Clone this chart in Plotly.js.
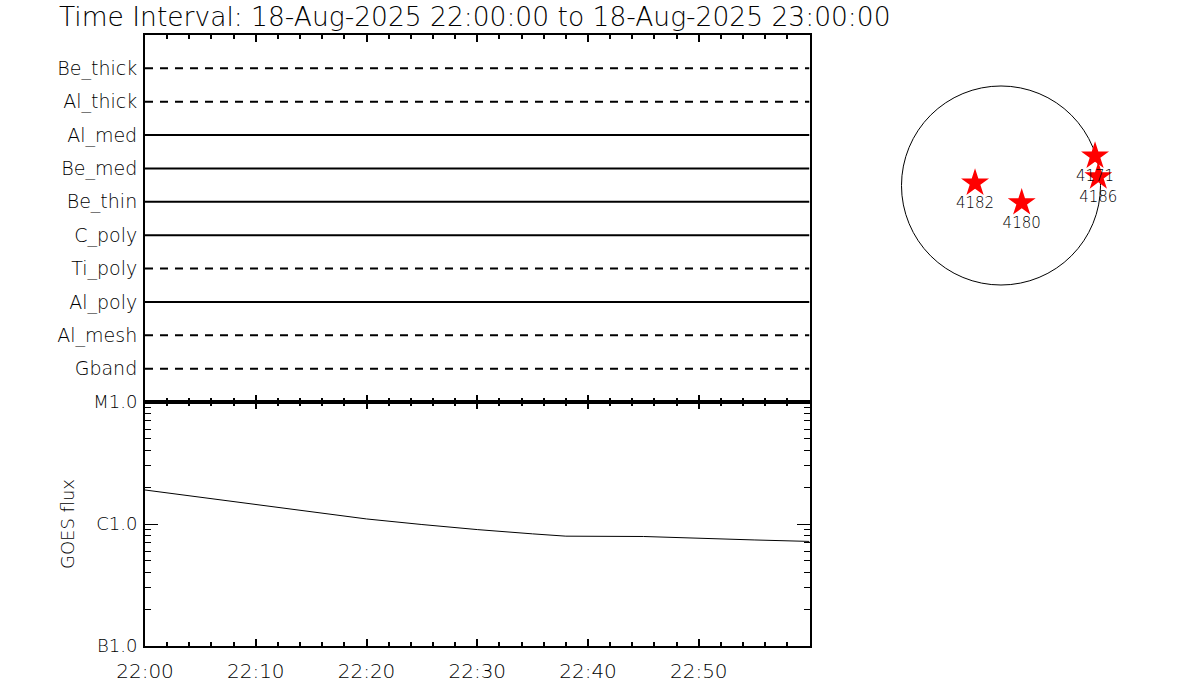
<!DOCTYPE html>
<html>
<head>
<meta charset="utf-8">
<script src="https://cdn.plot.ly/plotly-3.0.1.min.js"></script>
<style>html,body{margin:0;padding:0;background:#fff;}#chart{width:1200px;height:700px;}</style>
</head>
<body>
<div id="chart"></div>
<script>
// ---- data ----
const titleText = 'Time Interval: 18-Aug-2025 22:00:00 to 18-Aug-2025 23:00:00';
const intervalStart = '2025-08-18 22:00:00';
const intervalEnd = '2025-08-18 23:00:00';

const filters = ['Be_thick','Al_thick','Al_med','Be_med','Be_thin','C_poly','Ti_poly','Al_poly','Al_mesh','Gband'];
const filterInUse = [false, false, true, true, true, true, false, true, false, false];

const goesTimes = ['2025-08-18 22:00','2025-08-18 22:05','2025-08-18 22:10','2025-08-18 22:15',
  '2025-08-18 22:20','2025-08-18 22:25','2025-08-18 22:30','2025-08-18 22:35','2025-08-18 22:38',
  '2025-08-18 22:45','2025-08-18 22:50','2025-08-18 22:55','2025-08-18 23:00'];
const goesFlux = [1.90e-6, 1.66e-6, 1.45e-6, 1.26e-6, 1.10e-6, 0.99e-6, 0.90e-6, 0.83e-6, 0.795e-6,
  0.79e-6, 0.77e-6, 0.74e-6, 0.72e-6];

const timeTickVals = ['2025-08-18 22:00','2025-08-18 22:10','2025-08-18 22:20','2025-08-18 22:30','2025-08-18 22:40','2025-08-18 22:50'];
const timeTickText = ['22:00','22:10','22:20','22:30','22:40','22:50'];

const goesTickVals = [1e-7, 1e-6, 1e-5];
const goesTickText = ['B1.0', 'C1.0', 'M1.0'];

const regionNames = ['4182', '4180', '4171', '4186'];
const regionX = [-0.261, 0.208, 0.945, 0.978];   // solar radii
const regionY = [0.025, -0.173, 0.296, 0.088];

// ---- build ----
const FONT = 'DejaVu Sans, Liberation Sans, sans-serif';
const W = 200;
const traces = [];
filters.forEach((f, i) => {
  traces.push({
    x: [intervalStart, intervalEnd],
    y: [filters.length - i, filters.length - i],
    xaxis: 'x', yaxis: 'y',
    mode: 'lines', hoverinfo: 'skip',
    line: {color: '#000', width: 2, dash: filterInUse[i] ? 'solid' : '8px,7px'}
  });
});
traces.push({
  x: goesTimes, y: goesFlux, xaxis: 'x2', yaxis: 'y2',
  mode: 'lines', line: {color: '#000', width: 1}
});
traces.push({
  x: regionX, y: regionY, xaxis: 'x3', yaxis: 'y3',
  mode: 'markers+text', text: regionNames, textposition: 'bottom center',
  textfont: {family: FONT, size: 15, color: '#000', weight: W},
  marker: {symbol: 'star', size: 21, color: '#ff0000', line: {width: 0}}
});

const L = 145/1200, R = 809.5/1200;
const yMid = 1 - 402/700;
const commonX = {
  type: 'date', range: [intervalStart, intervalEnd],
  showline: true, linecolor: '#000', linewidth: 2, mirror: 'ticks',
  ticks: 'inside', ticklen: 7, tickwidth: 2, tickcolor: '#000',
  tickmode: 'array', tickvals: timeTickVals, ticktext: timeTickText,
  minor: {dtick: 120000, ticks: 'inside', ticklen: 4, tickwidth: 2, tickcolor: '#000', showgrid: false},
  showgrid: false, zeroline: false, fixedrange: true
};

const layout = {
  width: 1200, height: 700,
  margin: {l: 0, r: 0, t: 0, b: 0},
  paper_bgcolor: '#fff', plot_bgcolor: 'rgba(0,0,0,0)',
  showlegend: false,
  font: {family: FONT, color: '#000', weight: W},
  xaxis: Object.assign({}, commonX, {domain: [L, R], anchor: 'y', showticklabels: false}),
  yaxis: {
    domain: [yMid, 1 - 35/700], anchor: 'x', range: [0, filters.length + 1],
    tickmode: 'array', tickvals: filters.map((f, i) => filters.length - i), ticktext: filters,
    ticks: '', ticklabelstandoff: 2, tickfont: {family: FONT, size: 19, color: '#000', weight: W},
    showline: true, linecolor: '#000', linewidth: 2, mirror: true,
    showgrid: false, zeroline: false, fixedrange: true
  },
  xaxis2: Object.assign({}, commonX, {domain: [L, R], anchor: 'y2', showticklabels: true,
    ticklabelstandoff: 6, tickfont: {family: FONT, size: 20, color: '#000', weight: W}}),
  yaxis2: {
    domain: [1 - 646/700, yMid], anchor: 'x2', type: 'log', range: [-7, -5],
    tickmode: 'array', tickvals: goesTickVals, ticktext: goesTickText,
    ticks: 'inside', ticklen: 13, tickwidth: 1, tickcolor: '#000',
    minor: {dtick: 'D1', ticks: 'inside', ticklen: 6, tickwidth: 1, tickcolor: '#000', showgrid: false},
    showline: true, linecolor: '#000', linewidth: 2, mirror: 'ticks',
    ticklabelstandoff: 2, tickfont: {family: FONT, size: 18, color: '#000', weight: W},
    title: {text: 'GOES flux', font: {family: FONT, size: 18, color: '#000', weight: W}, standoff: 14},
    showgrid: false, zeroline: false, fixedrange: true
  },
  xaxis3: {domain: [880/1200, 1122/1200], anchor: 'y3', range: [-1.216, 1.216],
    visible: false, fixedrange: true},
  yaxis3: {domain: [1 - 306.5/700, 1 - 64.5/700], anchor: 'x3', range: [-1.216, 1.216],
    visible: false, fixedrange: true},
  shapes: [{type: 'circle', xref: 'x3', yref: 'y3', x0: -1, x1: 1, y0: -1, y1: 1,
    line: {color: '#000', width: 1}, layer: 'below'}],
  annotations: [{
    text: titleText, xref: 'paper', yref: 'paper', x: 57/1200, y: 1 - 17/700,
    xanchor: 'left', yanchor: 'middle', showarrow: false,
    font: {family: FONT, size: 26.5, color: '#000', weight: W}
  }]
};

Plotly.newPlot('chart', traces, layout, {displayModeBar: false, staticPlot: true});
</script>
</body>
</html>
